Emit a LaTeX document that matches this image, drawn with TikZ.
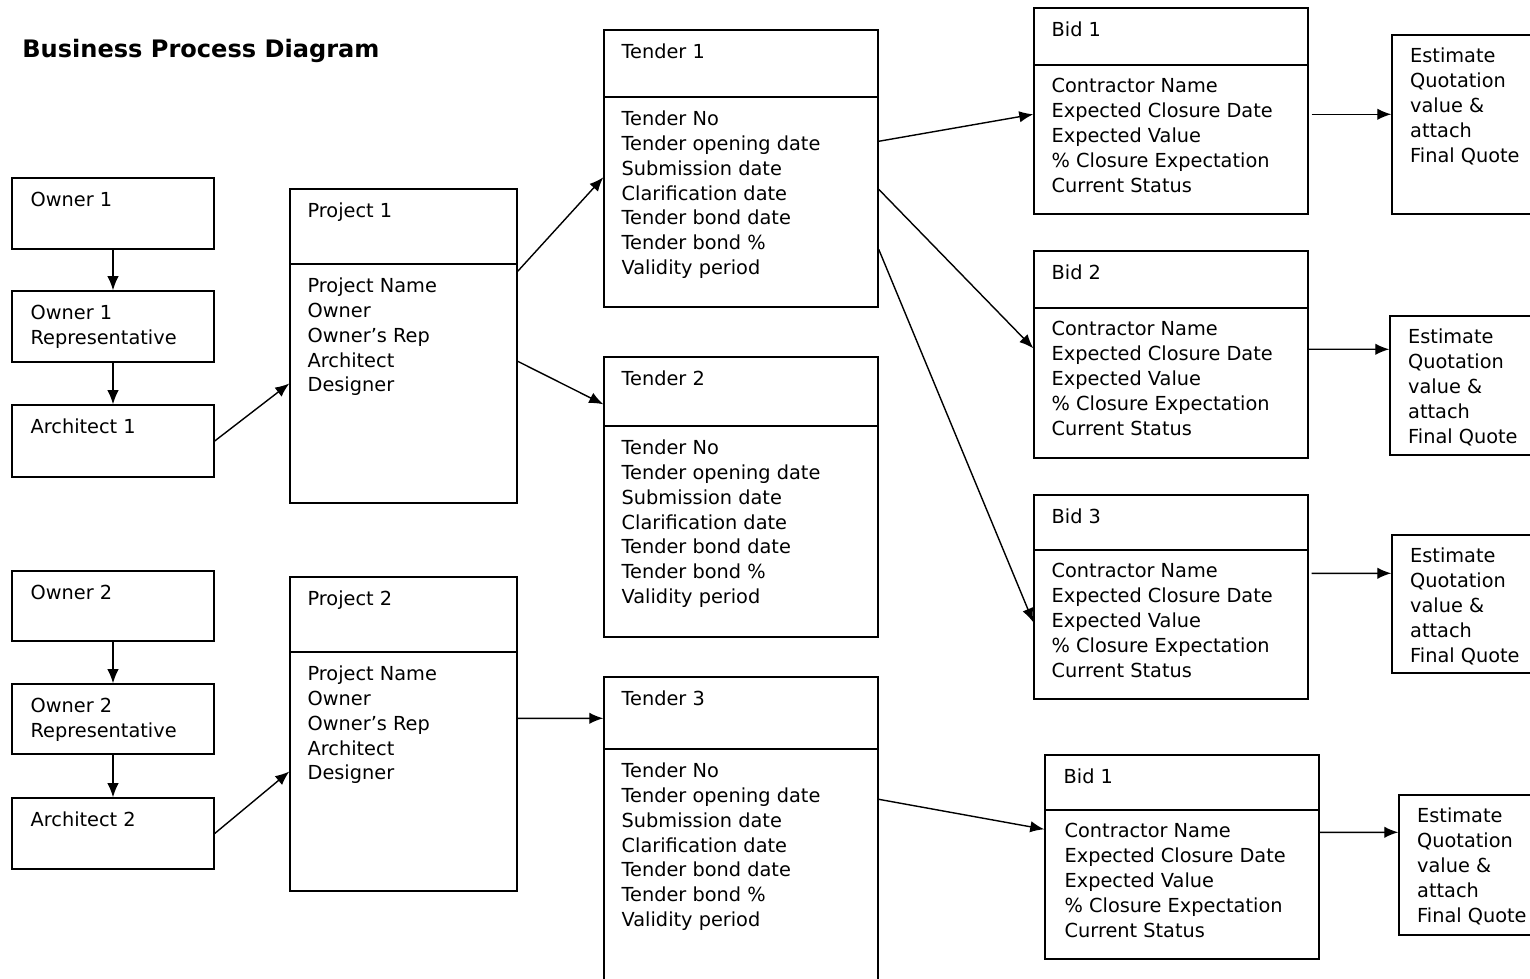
\documentclass[tikz,border=0pt]{standalone}
\usepackage{fontspec}
\setmainfont{DejaVu Sans}
\usepackage{tikz}
\usetikzlibrary{arrows.meta}
\usetikzlibrary{calc}
\usetikzlibrary{fit}
\usetikzlibrary{positioning}

\newcommand{\projectrows}{Project Name\\Owner\\Owner’s Rep\\Architect\\Designer}
\newcommand{\tenderrows}{Tender No\\Tender opening date\\Submission date\\Clarification date\\Tender bond date\\Tender bond \%\\Validity period}
\newcommand{\bidrows}{Contractor Name\\Expected Closure Date\\Expected Value\\\% Closure Expectation\\Current Status}
\newcommand{\estimaterows}{Estimate\\Quotation\\value \&\\attach\\Final Quote}

\begin{document}
\begin{tikzpicture}[x=0.02cm, y=-0.02cm]
			\tikzset{box/.style={draw, line width=0.8pt, inner sep=0pt}}
			\tikzset{txt/.style={align=left, inner sep=0pt, font=\fontsize{11}{14.17}\selectfont}}
			\tikzset{link/.style={-{Latex[length=8pt, width=6.5pt]}, line width=0.8pt}}
			\useasboundingbox (0,0) rectangle (1530,979);
			\clip (0,0) rectangle (1530,979);
			\node[anchor=base west, inner sep=0pt, font=\fontsize{13.7}{16}\selectfont\bfseries] (title) at (22,58) {Business Process Diagram};
			%owners
			\node[box, fit={(12,178) (214,249)}] (o1) {};
			\node[box, fit={(12,291) (214,362)}] (r1) {};
			\node[box, fit={(12,405) (214,477)}] (a1) {};
			\node[box, fit={(12,571) (214,641)}] (o2) {};
			\node[box, fit={(12,684) (214,754)}] (r2) {};
			\node[box, fit={(12,798) (214,869)}] (a2) {};
			\node[txt, below right=0.29cm and 0.38cm of o1.north west] (o1t) {Owner 1};
			\node[txt, below right=0.29cm and 0.38cm of r1.north west] (r1t) {Owner 1\\Representative};
			\node[txt, below right=0.29cm and 0.38cm of a1.north west] (a1t) {Architect 1};
			\node[txt, below right=0.29cm and 0.38cm of o2.north west] (o2t) {Owner 2};
			\node[txt, below right=0.29cm and 0.38cm of r2.north west] (r2t) {Owner 2\\Representative};
			\node[txt, below right=0.29cm and 0.38cm of a2.north west] (a2t) {Architect 2};
			%projects
			\node[box, fit={(290,189) (517,264)}] (p1h) {};
			\node[box, fit={(290,264) (517,503)}] (p1) {};
			\node[box, fit={(290,577) (517,652)}] (p2h) {};
			\node[box, fit={(290,652) (517,891)}] (p2) {};
			\node[txt, below right=0.28cm and 0.36cm of p1h.north west] (p1ht) {Project 1};
			\node[txt, below right=0.28cm and 0.36cm of p1.north west] (p1t) {\projectrows};
			\node[txt, below right=0.28cm and 0.36cm of p2h.north west] (p2ht) {Project 2};
			\node[txt, below right=0.28cm and 0.36cm of p2.north west] (p2t) {\projectrows};
			%tenders
			\node[box, fit={(604,30) (878,97)}] (t1h) {};
			\node[box, fit={(604,97) (878,307)}] (t1) {};
			\node[box, fit={(604,357) (878,426)}] (t2h) {};
			\node[box, fit={(604,426) (878,637)}] (t2) {};
			\node[box, fit={(604,677) (878,749)}] (t3h) {};
			\node[box, fit={(604,749) (878,995)}] (t3) {};
			\node[txt, below right=0.28cm and 0.36cm of t1h.north west] (t1ht) {Tender 1};
			\node[txt, below right=0.28cm and 0.36cm of t1.north west] (t1t) {\tenderrows};
			\node[txt, below right=0.28cm and 0.36cm of t2h.north west] (t2ht) {Tender 2};
			\node[txt, below right=0.28cm and 0.36cm of t2.north west] (t2t) {\tenderrows};
			\node[txt, below right=0.28cm and 0.36cm of t3h.north west] (t3ht) {Tender 3};
			\node[txt, below right=0.28cm and 0.36cm of t3.north west] (t3t) {\tenderrows};
			%bids
			\node[box, fit={(1034,8) (1308,65)}] (b1h) {};
			\node[box, fit={(1034,65) (1308,214)}] (b1) {};
			\node[box, fit={(1034,251) (1308,308)}] (b2h) {};
			\node[box, fit={(1034,308) (1308,458)}] (b2) {};
			\node[box, fit={(1034,495) (1308,550)}] (b3h) {};
			\node[box, fit={(1034,550) (1308,699)}] (b3) {};
			\node[box, fit={(1045,755) (1319,810)}] (b4h) {};
			\node[box, fit={(1045,810) (1319,959)}] (b4) {};
			\node[txt, below right=0.28cm and 0.36cm of b1h.north west] (b1ht) {Bid 1};
			\node[txt, below right=0.28cm and 0.36cm of b1.north west] (b1t) {\bidrows};
			\node[txt, below right=0.28cm and 0.36cm of b2h.north west] (b2ht) {Bid 2};
			\node[txt, below right=0.28cm and 0.36cm of b2.north west] (b2t) {\bidrows};
			\node[txt, below right=0.28cm and 0.36cm of b3h.north west] (b3ht) {Bid 3};
			\node[txt, below right=0.28cm and 0.36cm of b3.north west] (b3t) {\bidrows};
			\node[txt, below right=0.28cm and 0.38cm of b4h.north west] (b4ht) {Bid 1};
			\node[txt, below right=0.28cm and 0.40cm of b4.north west] (b4t) {\bidrows};
			%estimates
			\node[box, fit={(1392,35) (1560,214)}] (e1) {};
			\node[box, fit={(1390,316) (1560,455)}] (e2) {};
			\node[box, fit={(1392,535) (1560,673)}] (e3) {};
			\node[box, fit={(1399,795) (1560,935)}] (e4) {};
			\node[txt, below right=0.27cm and 0.37cm of e1.north west] (e1t) {\estimaterows};
			\node[txt, below right=0.27cm and 0.37cm of e2.north west] (e2t) {\estimaterows};
			\node[txt, below right=0.27cm and 0.37cm of e3.north west] (e3t) {\estimaterows};
			\node[txt, below right=0.27cm and 0.37cm of e4.north west] (e4t) {\estimaterows};
			%edges
			\draw[link] (o1) -- (r1);
			\draw[link] (r1) -- (a1);
			\draw[link] (o2) -- (r2);
			\draw[link] (r2) -- (a2);
			\draw[link] (a1.east) -- (p1.west);
			\draw[link] (a2.east) -- (p2.west);
			\draw[link] ($(p1.north east)+(0,8)$) -- ($(t1.north west)+(0,81)$);
			\draw[link] ($(p1.north east)+(0,98)$) -- ($(t2h.north west)+(0,48)$);
			\draw[link] ($(p2.north east)+(0,67)$) -- ($(t3h.north west)+(0,42)$);
			\draw[link] ($(t1.north east)+(0,45)$) -- ($(b1.north west)+(0,50)$);
			\draw[link] ($(t1.north east)+(0,93)$) -- ($(b2.north west)+(0,41)$);
			\draw[link] ($(t1.north east)+(0,153)$) -- ($(b3.north west)+(0,73)$);
			\draw[link] ($(t3.north east)+(0,51)$) -- ($(b4.north west)+(0,20)$);
			\draw[link] ($(b1.north east)+(3,50)$) -- ($(e1.north west)+(0,80)$);
			\draw[link] ($(b2.north east)+(0,42)$) -- ($(e2.north west)+(0,34)$);
			\draw[link] ($(b3.north east)+(3,24)$) -- ($(e3.north west)+(0,39)$);
			\draw[link] ($(b4.north east)+(0,23)$) -- ($(e4.north west)+(0,38)$);
\end{tikzpicture}
\end{document}
